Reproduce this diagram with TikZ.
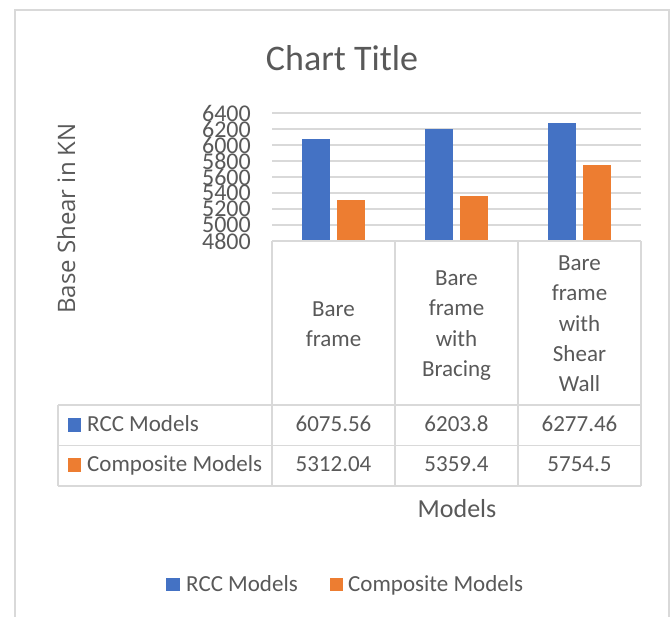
\documentclass[tikz,border=0pt]{standalone}
\usepackage{fontspec}
\setmainfont{Carlito}
\newfontfamily\axisfont{Open Sans}
\definecolor{rccblue}{HTML}{4472C4}
\definecolor{compor}{HTML}{ED7D31}
\definecolor{gridgray}{HTML}{D9D9D9}
\definecolor{txtgray}{HTML}{595959}
\begin{document}
\begin{tikzpicture}[x=1pt,y=-1pt,
  every node/.style={inner sep=0pt, text=txtgray},
  gridline/.style={draw=gridgray, line width=1.6pt},
  tableline/.style={draw=gridgray, line width=1.3pt},
  frameline/.style={draw=gridgray, line width=2pt},
  bluebar/.style={fill=rccblue},
  orangebar/.style={fill=compor},
  ticklabel/.style={anchor=east, font=\fontsize{24}{24}\selectfont},
  celltext/.style={anchor=base, font=\fontsize{23}{28}\selectfont},
  rowlabel/.style={anchor=base west, font=\fontsize{23}{28}\selectfont},
  catline/.style={anchor=base, font=\fontsize{23}{28}\selectfont}]
\useasboundingbox (0,0) rectangle (672,616);
\fill[white] (0,0) rectangle (672,616);
% outer chart frame
\draw[frameline] (15,620) -- (15,9.5) -- (669,9.5) -- (669,620);
% title
\node[anchor=base, font=\fontsize{36}{36}\selectfont] (title) at (342,70) {Chart Title};
% gridlines
\foreach \v in {5000,5200,...,6400}{
  \draw[gridline] (272,{241-(\v-4800)*0.08}) -- (641,{241-(\v-4800)*0.08});
}
% tick labels
\foreach \v in {4800,5000,...,6400}{
  \node[ticklabel] (tick\v) at (251,{241-(\v-4800)*0.08}) {\v};
}
% bars
\foreach \i/\a/\b in {0/6075.56/5312.04, 1/6203.8/5359.4, 2/6277.46/5754.5}{
  \fill[bluebar] ({272+123*\i+30},241) rectangle ({272+123*\i+57.5},{241-(\a-4800)*0.08});
  \fill[orangebar] ({272+123*\i+65},241) rectangle ({272+123*\i+92.5},{241-(\b-4800)*0.08});
}
% data table lines
\draw[tableline] (272,241) -- (641,241);
\foreach \x in {272,395,518,641}{
  \draw[tableline] (\x,241) -- (\x,486);
}
\foreach \y in {405,445.5,486}{
  \draw[tableline] (58,\y) -- (641,\y);
}
\draw[tableline] (58,405) -- (58,486);
% category labels
\node[catline] (c1a) at (333.5,316.5) {Bare};
\node[catline] (c1b) at (333.5,346.7) {frame};
\node[catline] (c2a) at (456.5,285.4) {Bare};
\node[catline] (c2b) at (456.5,315.8) {frame};
\node[catline] (c2c) at (456.5,346.2) {with};
\node[catline] (c2d) at (456.5,376.6) {Bracing};
\node[catline] (c3a) at (579.5,270.2) {Bare};
\node[catline] (c3b) at (579.5,300.6) {frame};
\node[catline] (c3c) at (579.5,331) {with};
\node[catline] (c3d) at (579.5,361.4) {Shear};
\node[catline] (c3e) at (579.5,391.8) {Wall};
% row headers
\fill[bluebar] (68,418) rectangle (81,432);
\node[rowlabel] (rowrcc) at (87,431) {RCC Models};
\fill[orangebar] (68,458) rectangle (81,472);
\node[rowlabel] (rowcomp) at (87,471.5) {Composite Models};
% values
\node[celltext] (v11) at (333.5,431) {6075.56};
\node[celltext] (v12) at (456.5,431) {6203.8};
\node[celltext] (v13) at (579.5,431) {6277.46};
\node[celltext] (v21) at (333.5,471.5) {5312.04};
\node[celltext] (v22) at (456.5,471.5) {5359.4};
\node[celltext] (v23) at (579.5,471.5) {5754.5};
% axis titles
\node[anchor=base, font=\fontsize{26}{26}\selectfont] (xtitle) at (457,517) {Models};
\node[rotate=90, font=\axisfont\fontsize{24}{24}\selectfont] (ytitle) at (66,218.5) {Base Shear in KN};
% legend
\fill[bluebar] (166,578) rectangle (180,591);
\node[rowlabel] (legrcc) at (186,591) {RCC Models};
\fill[orangebar] (330,578) rectangle (343,591);
\node[rowlabel] (legcomp) at (348,591) {Composite Models};
\end{tikzpicture}
\end{document}
